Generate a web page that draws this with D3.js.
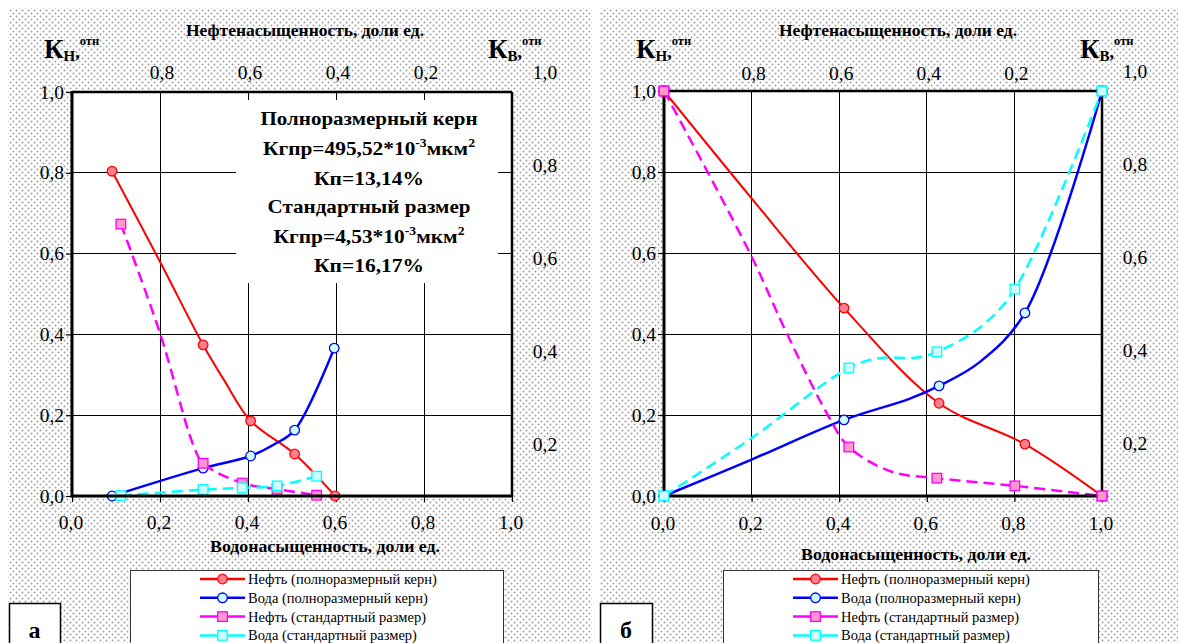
<!DOCTYPE html>
<html><head><meta charset="utf-8">
<script src="https://cdn.jsdelivr.net/npm/d3@7/dist/d3.min.js"></script>
<style>html,body{margin:0;padding:0;background:#fff;}svg{display:block;}</style>
</head><body>
<svg id="chart" width="1178" height="643"></svg>
<script>
// ---------- DATA ----------
const xTicks = [0, 0.2, 0.4, 0.6, 0.8, 1.0];          // water saturation (bottom)
const topTicks = [0.8, 0.6, 0.4, 0.2];                 // oil saturation (top)
const yTicks = [0, 0.2, 0.4, 0.6, 0.8, 1.0];           // Kн отн (left)
const y2Ticks = [0.2, 0.4, 0.6, 0.8, 1.0];             // Kв отн (right labels)
const seriesNames = ["Нефть (полноразмерный керн)", "Вода (полноразмерный керн)",
                     "Нефть (стандартный размер)", "Вода (стандартный размер)"];
const titleTop = "Нефтенасыщенность, доли ед.";
const titleBottom = "Водонасыщенность, доли ед.";
const panelLetters = ["а", "б"];

// panel а — measured points (with markers)
const a_oilFull_x = [0.091, 0.298, 0.406, 0.506, 0.598];
const a_oilFull_y = [0.804, 0.374, 0.186, 0.104, 0.0];
const a_watFull_x = [0.091, 0.298, 0.406, 0.506, 0.596];
const a_watFull_y = [0.0, 0.069, 0.099, 0.163, 0.366];
const a_oilStd_x  = [0.111, 0.298, 0.387, 0.466, 0.556];
const a_oilStd_y  = [0.673, 0.081, 0.032, 0.017, 0.002];
const a_watStd_x  = [0.111, 0.298, 0.387, 0.466, 0.556];
const a_watStd_y  = [0.001, 0.016, 0.020, 0.025, 0.049];
// panel а — extra unmarked points of the drawn curves
const a_oilFull_px = [0.198, 0.345];
const a_oilFull_py = [0.584, 0.288];
const a_watFull_px = [0.46];
const a_watFull_py = [0.128];
const a_oilStd_px  = [0.2, 0.276];
const a_oilStd_py  = [0.403, 0.125];
const a_watStd_px  = [];
const a_watStd_py  = [];

// panel б — measured points
const b_oilFull_x = [0.0, 0.411, 0.628, 0.824, 1.0];
const b_oilFull_y = [1.0, 0.464, 0.229, 0.128, 0.0];
const b_watFull_x = [0.0, 0.411, 0.628, 0.824, 1.0];
const b_watFull_y = [0.0, 0.188, 0.272, 0.452, 1.0];
const b_oilStd_x  = [0.0, 0.422, 0.623, 0.801, 1.0];
const b_oilStd_y  = [1.0, 0.121, 0.044, 0.025, 0.0];
const b_watStd_x  = [0.0, 0.422, 0.623, 0.801, 1.0];
const b_watStd_y  = [0.0, 0.316, 0.356, 0.511, 1.0];
// panel б — extra unmarked points of the drawn curves
const b_oilFull_px = [0.2];
const b_oilFull_py = [0.735];
const b_watFull_px = [0.2, 0.56, 0.72];
const b_watFull_py = [0.09, 0.24, 0.33];
const b_oilStd_px  = [0.196, 0.281, 0.374, 0.52];
const b_oilStd_py  = [0.6, 0.4, 0.2, 0.06];
const b_watStd_px  = [0.2, 0.49, 0.58, 0.72];
const b_watStd_py  = [0.143, 0.34, 0.342, 0.415];

const infoLines = [
  [["Полноразмерный керн", 0]],
  [["Кгпр=495,52*10", 0], ["-3", 1], ["мкм", 0], ["2", 1]],
  [["Кп=13,14%", 0]],
  [["Стандартный размер", 0]],
  [["Кгпр=4,53*10", 0], ["-3", 1], ["мкм", 0], ["2", 1]],
  [["Кп=16,17%", 0]]
];

// ---------- STYLE ----------
const styles = [
  {color: "#ff0000", width: 2,   dash: null,   marker: "circle", fill: "#ff7f92"},
  {color: "#0000ff", width: 2.5, dash: null,   marker: "circle", fill: "#ccffff"},
  {color: "#ff00ff", width: 2.5, dash: "11,6", marker: "square", fill: "#ff99cc"},
  {color: "#00ffff", width: 2.5, dash: "11,6", marker: "square", fill: "#ccffff"}
];
const SERIF = "'Liberation Serif','DejaVu Serif',serif";
const fmt = v => d3.format(".1f")(v).replace(".", ",");
const zip = (xs, ys) => xs.map((x, i) => [x, ys[i]]);
const curvePts = (mx, my, px, py) => zip(mx, my).concat(zip(px, py)).sort((a, b) => a[0] - b[0]);

const panels = [
  { bg: [8, 8, 584, 640], plot: {x0: 72, x1: 512, y0: 92, y1: 496},
    marks: [zip(a_oilFull_x, a_oilFull_y), zip(a_watFull_x, a_watFull_y), zip(a_oilStd_x, a_oilStd_y), zip(a_watStd_x, a_watStd_y)],
    curves: [curvePts(a_oilFull_x, a_oilFull_y, a_oilFull_px, a_oilFull_py),
             curvePts(a_watFull_x, a_watFull_y, a_watFull_px, a_watFull_py),
             curvePts(a_oilStd_x, a_oilStd_y, a_oilStd_px, a_oilStd_py),
             curvePts(a_watStd_x, a_watStd_y, a_watStd_px, a_watStd_py)],
    y2: [538, 72], titleTopX: 305, titleTopY: 36, titleBotX: 325, titleBotY: 552,
    kL: 44, kR: 488, legend: {x: 130, y: 570, w: 373}, letter: {x: 9, y: 603, w: 51},
    botLblY: 522, topLblY: 72, info: true, y2x: 545 },
  { bg: [600, 8, 578, 640], plot: {x0: 664, x1: 1102, y0: 91, y1: 496},
    marks: [zip(b_oilFull_x, b_oilFull_y), zip(b_watFull_x, b_watFull_y), zip(b_oilStd_x, b_oilStd_y), zip(b_watStd_x, b_watStd_y)],
    curves: [curvePts(b_oilFull_x, b_oilFull_y, b_oilFull_px, b_oilFull_py),
             curvePts(b_watFull_x, b_watFull_y, b_watFull_px, b_watFull_py),
             curvePts(b_oilStd_x, b_oilStd_y, b_oilStd_px, b_oilStd_py),
             curvePts(b_watStd_x, b_watStd_y, b_watStd_px, b_watStd_py)],
    y2: [536, 71], titleTopX: 898, titleTopY: 36, titleBotX: 916, titleBotY: 560,
    kL: 636, kR: 1080, legend: {x: 723, y: 570, w: 375}, letter: {x: 600, y: 603, w: 52},
    botLblY: 523, topLblY: 73, info: false, y2x: 1135 }
];

const svg = d3.select("#chart");
const defs = svg.append("defs");
const pat = defs.append("pattern").attr("id", "dots").attr("patternUnits", "userSpaceOnUse")
  .attr("width", 6).attr("height", 6);
pat.append("rect").attr("width", 6).attr("height", 6).attr("fill", "#ffffff");
pat.append("circle").attr("cx", 1.5).attr("cy", 1.5).attr("r", 0.95).attr("fill", "#9e9e9e");
pat.append("circle").attr("cx", 4.5).attr("cy", 4.5).attr("r", 0.95).attr("fill", "#9e9e9e");

function drawMarker(g, type, cx, cy, st) {
  if (type === "circle") {
    g.append("circle").attr("cx", cx).attr("cy", cy).attr("r", 4.8)
      .attr("fill", st.fill).attr("stroke", st.color).attr("stroke-width", 1.3);
  } else {
    g.append("rect").attr("x", cx - 4.8).attr("y", cy - 4.8).attr("width", 9.6).attr("height", 9.6)
      .attr("fill", st.fill).attr("stroke", st.color).attr("stroke-width", 1.3);
  }
}

panels.forEach((p, pi) => {
  const g = svg.append("g");
  g.append("rect").attr("x", p.bg[0]).attr("y", p.bg[1]).attr("width", p.bg[2]).attr("height", p.bg[3])
    .attr("fill", "url(#dots)");

  const x = d3.scaleLinear().domain([0, 1]).range([p.plot.x0, p.plot.x1]);
  const xTop = d3.scaleLinear().domain([1, 0]).range([p.plot.x0, p.plot.x1]);
  const y = d3.scaleLinear().domain([0, 1]).range([p.plot.y1, p.plot.y0]);
  const y2 = d3.scaleLinear().domain([0, 1]).range(p.y2);

  g.append("rect").attr("x", p.plot.x0).attr("y", p.plot.y0)
    .attr("width", p.plot.x1 - p.plot.x0).attr("height", p.plot.y1 - p.plot.y0).attr("fill", "#fff");

  const grid = g.append("g").attr("stroke", "#000").attr("stroke-width", 1).attr("shape-rendering", "crispEdges");
  xTicks.slice(1, -1).forEach(t => grid.append("line").attr("x1", x(t)).attr("x2", x(t))
    .attr("y1", p.plot.y0).attr("y2", p.plot.y1));
  yTicks.slice(1, -1).forEach(t => grid.append("line").attr("y1", y(t)).attr("y2", y(t))
    .attr("x1", p.plot.x0).attr("x2", p.plot.x1));

  if (p.info) {
    g.append("rect").attr("x", 236).attr("y", 100).attr("width", 262).attr("height", 183).attr("fill", "#fff");
    const ys = [125, 155, 185, 213, 243, 272];
    const widths = [217, 212, 110, 203, 191, 110];
    infoLines.forEach((ln, i) => {
      const t = g.append("text").attr("x", 369).attr("y", ys[i]).attr("text-anchor", "middle")
        .attr("font-family", SERIF).attr("font-weight", "bold").attr("font-size", 19.5).attr("fill", "#000")
        .attr("textLength", widths[i]).attr("lengthAdjust", "spacingAndGlyphs");
      ln.forEach(([s, sup], k) => {
        const ts = t.append("tspan").text(s);
        if (sup) ts.attr("font-size", 12.5).attr("dy", -8);
        else if (k > 0) ts.attr("dy", 8);
      });
    });
  }

  const bAx = d3.axisBottom(x).tickValues(xTicks).tickSize(6).tickFormat("");
  const gb = g.append("g").attr("transform", `translate(0,${p.plot.y1})`).call(bAx);
  gb.select(".domain").remove();
  gb.selectAll("line").attr("stroke", "#000").attr("stroke-width", 1.2);
  const lAx = d3.axisLeft(y).tickValues(yTicks).tickSize(6).tickFormat("");
  const gl = g.append("g").attr("transform", `translate(${p.plot.x0},0)`).call(lAx);
  gl.select(".domain").remove();
  gl.selectAll("line").attr("stroke", "#000").attr("stroke-width", 1.2);

  const lbl = g.append("g").attr("font-family", SERIF).attr("font-size", 19.5).attr("fill", "#000");
  xTicks.forEach(t => lbl.append("text").attr("x", x(t) - 1).attr("y", p.botLblY)
    .attr("text-anchor", "middle").attr("dominant-baseline", "central").text(fmt(t)));
  topTicks.forEach(t => lbl.append("text").attr("x", xTop(t) + 2).attr("y", p.topLblY)
    .attr("text-anchor", "middle").attr("dominant-baseline", "central").text(fmt(t)));
  yTicks.forEach(t => lbl.append("text").attr("x", p.plot.x0 - 8).attr("y", y(t))
    .attr("text-anchor", "end").attr("dominant-baseline", "central").text(fmt(t)));
  y2Ticks.forEach(t => lbl.append("text").attr("x", p.y2x).attr("y", y2(t))
    .attr("text-anchor", "middle").attr("dominant-baseline", "central").text(fmt(t)));

  g.append("text").attr("x", p.titleTopX).attr("y", p.titleTopY).attr("text-anchor", "middle")
    .attr("font-family", SERIF).attr("font-weight", "bold").attr("font-size", 17)
    .attr("textLength", 238).attr("lengthAdjust", "spacingAndGlyphs").text(titleTop);
  g.append("text").attr("x", p.titleBotX).attr("y", p.titleBotY).attr("text-anchor", "middle")
    .attr("font-family", SERIF).attr("font-weight", "bold").attr("font-size", 17)
    .attr("textLength", 230).attr("lengthAdjust", "spacingAndGlyphs").text(titleBottom);

  [[p.kL, "Н"], [p.kR, "В"]].forEach(([kx, sub]) => {
    const t = g.append("text").attr("x", kx).attr("y", 58).attr("font-family", SERIF)
      .attr("font-weight", "bold").attr("font-size", 27).attr("fill", "#000");
    t.append("tspan").text("К");
    t.append("tspan").attr("font-size", 15).attr("dy", 3).text(sub);
    t.append("tspan").attr("font-size", 18).attr("dy", -3).text(",");
    t.append("tspan").attr("font-size", 12.5).attr("dy", -13).text("отн");
  });

  const line = d3.line().x(d => x(d[0])).y(d => y(d[1])).curve(d3.curveCatmullRom.alpha(0.5));
  p.curves.forEach((data, si) => {
    const st = styles[si];
    g.append("path").attr("d", line(data)).attr("fill", "none").attr("stroke", st.color)
      .attr("stroke-width", st.width).attr("stroke-dasharray", st.dash).attr("stroke-linejoin", "round");
    const mg = g.append("g");
    p.marks[si].forEach(d => drawMarker(mg, st.marker, x(d[0]), y(d[1]), st));
  });

  const bd = g.append("g").attr("stroke", "#000").attr("fill", "none");
  bd.append("line").attr("x1", p.plot.x0).attr("x2", p.plot.x1).attr("y1", p.plot.y0).attr("y2", p.plot.y0).attr("stroke-width", 2.5);
  bd.append("line").attr("x1", p.plot.x1).attr("x2", p.plot.x1).attr("y1", p.plot.y0).attr("y2", p.plot.y1).attr("stroke-width", 2.5);
  bd.append("line").attr("x1", p.plot.x0).attr("x2", p.plot.x1 + 1).attr("y1", p.plot.y1).attr("y2", p.plot.y1).attr("stroke-width", 3);
  bd.append("line").attr("x1", p.plot.x0).attr("x2", p.plot.x0).attr("y1", p.plot.y0 - 1).attr("y2", p.plot.y1 + 1.5).attr("stroke-width", 3);
  // redraw end markers that sit on the frame
  p.curves.forEach((data, si) => {
    const st = styles[si];
    p.marks[si].filter(d => d[0] === 0 || d[0] === 1 || d[1] === 1)
      .forEach(d => drawMarker(g, st.marker, x(d[0]), y(d[1]), st));
  });

  const L = p.legend;
  g.append("rect").attr("x", L.x + 0.5).attr("y", L.y + 0.5).attr("width", L.w).attr("height", 90)
    .attr("fill", "#fff").attr("stroke", "#333").attr("stroke-width", 1);
  seriesNames.forEach((name, i) => {
    const st = styles[i];
    const ry = L.y + 9 + i * 18.8;
    const lx0 = L.x + 70, lx1 = L.x + 115;
    g.append("line").attr("x1", lx0).attr("x2", lx1).attr("y1", ry).attr("y2", ry)
      .attr("stroke", st.color).attr("stroke-width", 2.5);
    drawMarker(g, st.marker, (lx0 + lx1) / 2, ry, st);
    g.append("text").attr("x", lx1 + 3).attr("y", ry).attr("dominant-baseline", "central")
      .attr("font-family", SERIF).attr("font-size", 14.5).attr("fill", "#000").text(name);
  });

  const Lt = p.letter;
  g.append("rect").attr("x", Lt.x + 0.5).attr("y", Lt.y + 0.5).attr("width", Lt.w).attr("height", 50)
    .attr("fill", "#fff").attr("stroke", "#000").attr("stroke-width", 1.5);
  g.append("text").attr("x", Lt.x + Lt.w / 2).attr("y", 638).attr("text-anchor", "middle")
    .attr("font-family", SERIF).attr("font-weight", "bold").attr("font-size", 24).text(panelLetters[pi]);
});
</script>
</body></html>
